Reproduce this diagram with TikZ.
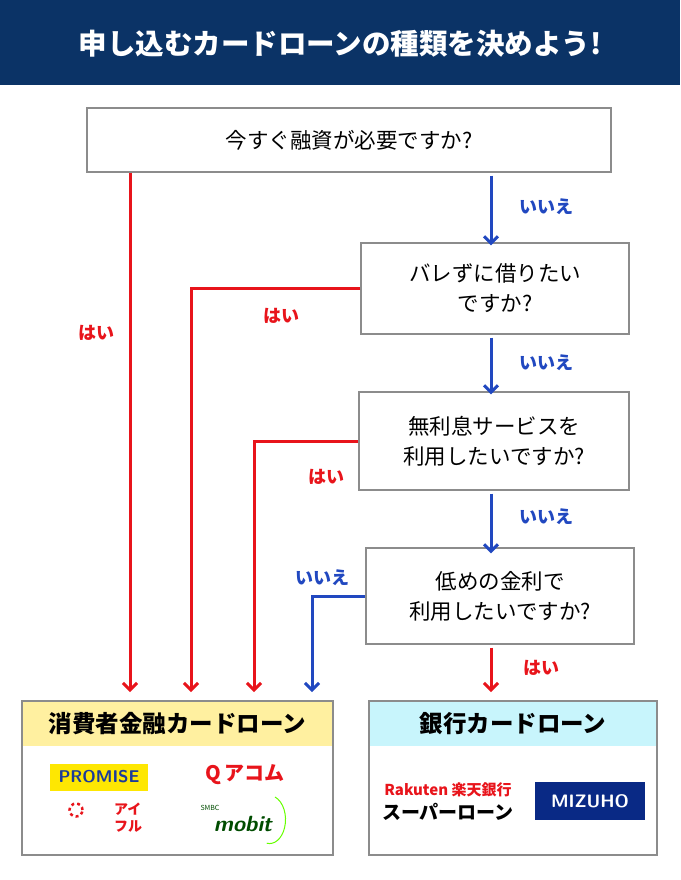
\documentclass[tikz,border=0pt]{standalone}
\usepackage{fontspec}
\setmainfont{Noto Sans CJK JP}
\usetikzlibrary{arrows.meta,positioning}
\definecolor{navy}{HTML}{0B3366}
\definecolor{yesred}{HTML}{E8141B}
\definecolor{noblue}{HTML}{2148C0}
\definecolor{headyel}{HTML}{FFF0A0}
\definecolor{headcyan}{HTML}{C8F5FC}
\definecolor{frame}{HTML}{8C8C8C}
\tikzset{
  qbox/.style={draw=frame,line width=1.2pt,fill=white,align=center,font=\fontsize{21.5}{30}\selectfont},
  yes/.style={yesred,line width=3pt,-{Straight Barb[length=7pt,width=14pt]}},
  no/.style={noblue,line width=3pt,-{Straight Barb[length=7pt,width=14pt]}},
  yeslbl/.style={text=yesred,font=\fontsize{18}{18}\selectfont\bfseries},
  nolbl/.style={text=noblue,font=\fontsize{18}{18}\selectfont\bfseries},
}
\begin{document}
\begin{tikzpicture}[x=1pt,y=-1pt]
\useasboundingbox (0,0) rectangle (680,880);
% title
\fill[navy] (0,0) rectangle (680,85);
\node[text=white,font=\fontsize{28.5}{28}\selectfont\bfseries] (title) at (340,44) {申し込むカードローンの種類を決めよう!};
% questions
\node[qbox,minimum width=524pt,minimum height=64pt] (q1) at (349,140) {今すぐ融資が必要ですか?};
\node[qbox,minimum width=268pt,minimum height=91pt] (q2) at (495,288.5) {バレずに借りたい\\ですか?};
\node[qbox,minimum width=270pt,minimum height=98pt] (q3) at (494,441) {無利息サービスを\\利用したいですか?};
\node[qbox,minimum width=268pt,minimum height=96pt] (q4) at (500,596) {低めの金利で\\利用したいですか?};
% end points
\coordinate (e1) at (130,692);
\coordinate (e2) at (191,692);
\coordinate (e3) at (254,692);
\coordinate (e4) at (312,692);
\coordinate (e5) at (491,692);
% connectors
\draw[yes] (q1.south -| e1) -- (e1);
\draw[yes] (q2.west) -| (e2);
\draw[yes] (q3.west) -| (e3);
\draw[no] (q4.west) -| (e4);
\draw[no] (q1.south -| e5) ++(0,3) -- ([yshift=-3pt]q2.north -| e5);
\draw[no] (q2.south -| e5) ++(0,3) -- ([yshift=-3pt]q3.north -| e5);
\draw[no] (q3.south -| e5) ++(0,3) -- ([yshift=-6pt]q4.north -| e5);
\draw[yes] (q4.south -| e5) ++(0,3) -- (e5);
% labels
\node[yeslbl] (y1) at (96,333) {はい};
\node[yeslbl] (y2) at (281,316) {はい};
\node[yeslbl] (y3) at (326,477) {はい};
\node[yeslbl] (y4) at (541,668) {はい};
\node[nolbl] (n1) at (546,207) {いいえ};
\node[nolbl] (n2) at (546,363) {いいえ};
\node[nolbl] (n3) at (546,517) {いいえ};
\node[nolbl] (n4) at (322,578) {いいえ};
% result boxes
\fill[headyel] (22,701) rectangle (333,746);
\draw[frame,line width=1.2pt] (22,701) rectangle (333,855);
\node[font=\fontsize{23.5}{23}\selectfont\bfseries] (r1) at (177.5,724) {消費者金融カードローン};
\fill[headcyan] (369,701) rectangle (657,746);
\draw[frame,line width=1.2pt] (369,701) rectangle (657,855);
\node[font=\fontsize{23.5}{23}\selectfont\bfseries] (r2) at (513,724) {銀行カードローン};
% logos
\node[fill=yellow!90!orange,text=noblue!80!black,minimum width=98pt,minimum height=27pt,font=\fontsize{17}{17}\selectfont\bfseries\sffamily,inner sep=0pt] (promise) at (99,777) {PROMISE};
\node[text=yesred,font=\fontsize{20}{20}\selectfont\bfseries] (acom) at (245,775) {\textbf{Q}\,アコム};
\node[circle,draw=yesred,line width=2.5pt,dashed,minimum size=13pt,inner sep=0pt] (aifulmark) at (76,810) {};
\node[text=yesred,font=\fontsize{14}{17}\selectfont\bfseries,align=left] (aiful) at (128,818) {アイ\\フル};
\node[text=black!70!green,font=\fontsize{22}{22}\selectfont\bfseries\itshape\sffamily] (mobit) at (243,824) {mobit};
\node[font=\fontsize{7}{7}\selectfont,text=black!70!green] (smbc) at (210,808) {SMBC};
\draw[green!60!yellow,line width=1pt] (275,797) arc[start angle=70,end angle=-100,x radius=16pt,y radius=24pt];
\node[text=yesred,font=\fontsize{15}{15}\selectfont\bfseries] (rakuten) at (448,790) {Rakuten 楽天銀行};
\node[font=\fontsize{19}{19}\selectfont\bfseries] (super) at (448,812) {スーパーローン};
\node[fill=navy!80!blue,text=white,minimum width=110pt,minimum height=38pt,font=\fontsize{18}{18}\selectfont\bfseries\sffamily] (mizuho) at (590,801) {MIZUHO};
\end{tikzpicture}
\end{document}
